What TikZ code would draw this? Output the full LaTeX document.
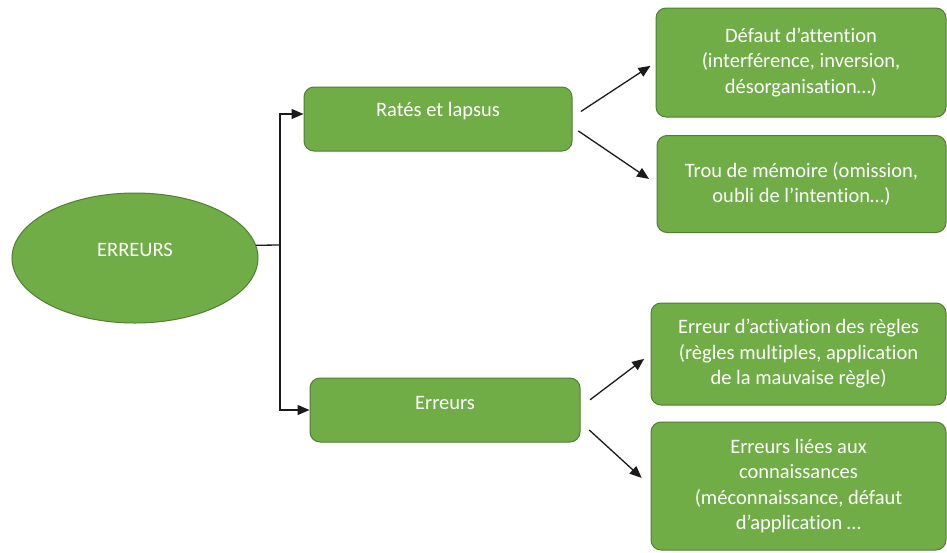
\documentclass[tikz,border=0pt]{standalone}
\usepackage{fontspec}
\setmainfont{Carlito}[Ligatures=NoCommon]
\usetikzlibrary{shapes.geometric,arrows.meta}
\definecolor{gfill}{HTML}{70AD47}
\definecolor{gline}{HTML}{507E32}
\definecolor{arr}{HTML}{1A1A1A}
\newcommand{\dfont}{\fontsize{20.5}{25.5}\selectfont}
\tikzset{
  box/.style={draw=gline,line width=1pt,fill=gfill,rounded corners=10pt,text=white,
    align=center,inner sep=0pt,font=\dfont},
  oval/.style={ellipse,draw=gline,line width=1pt,fill=gfill,text=white,inner sep=0pt},
  lbl/.style={text=white,font=\dfont,inner sep=0pt},
  conn/.style={draw=arr,line width=1.3pt,-{Triangle[length=12pt,width=10pt]}},
  elbow/.style={draw=arr,line width=1.3pt}
}
\begin{document}
\begin{tikzpicture}[x=1pt,y=-1pt]
\useasboundingbox (0,0) rectangle (947,552);
\node[oval,minimum width=246pt,minimum height=130pt] (ell) at (135,258) {};
\node[lbl] (ellt) at (135,250) {ERREURS};
\node[box,minimum width=268pt,minimum height=64pt] (r) at (438,119) {};
\node[lbl] (rt) at (438,111) {Ratés et lapsus};
\node[box,minimum width=270pt,minimum height=64pt] (e) at (445,410) {};
\node[lbl] (et) at (445,403) {Erreurs};
\node[box,minimum width=290pt,minimum height=109pt] (b1) at (801,62.5)
  {Défaut d’attention\\(interférence, inversion,\\désorganisation…)};
\node[box,minimum width=289pt,minimum height=97pt] (b2) at (801.5,184)
  {Trou de mémoire (omission,\\oubli de l’intention…)};
\node[box,minimum width=295pt,minimum height=102pt] (b3) at (798.5,354)
  {Erreur d’activation des règles\\(règles multiples, application\\de la mauvaise règle)};
\node[box,minimum width=295pt,minimum height=128pt] (b4) at (798.5,486)
  {Erreurs liées aux\\connaissances\\(méconnaissance, défaut\\d’application …};
\coordinate (j) at (280,245);
\draw[elbow] (ell.6) -- (j);
\draw[conn] (j) |- ([yshift=5pt]r.west);
\draw[conn] (j) |- (e.west);
\draw[conn,shorten <=10pt,shorten >=6pt] ([yshift=2pt]r.east) -- (b1.west);
\draw[conn,shorten <=7pt,shorten >=9pt] ([yshift=-8pt]r.east) -- (b2.west);
\draw[conn,shorten <=12pt,shorten >=8pt] ([yshift=3pt]e.east) -- (b3.west);
\draw[conn,shorten <=12pt,shorten >=12pt] ([yshift=-12pt]e.east) -- (b4.west);
\end{tikzpicture}
\end{document}
